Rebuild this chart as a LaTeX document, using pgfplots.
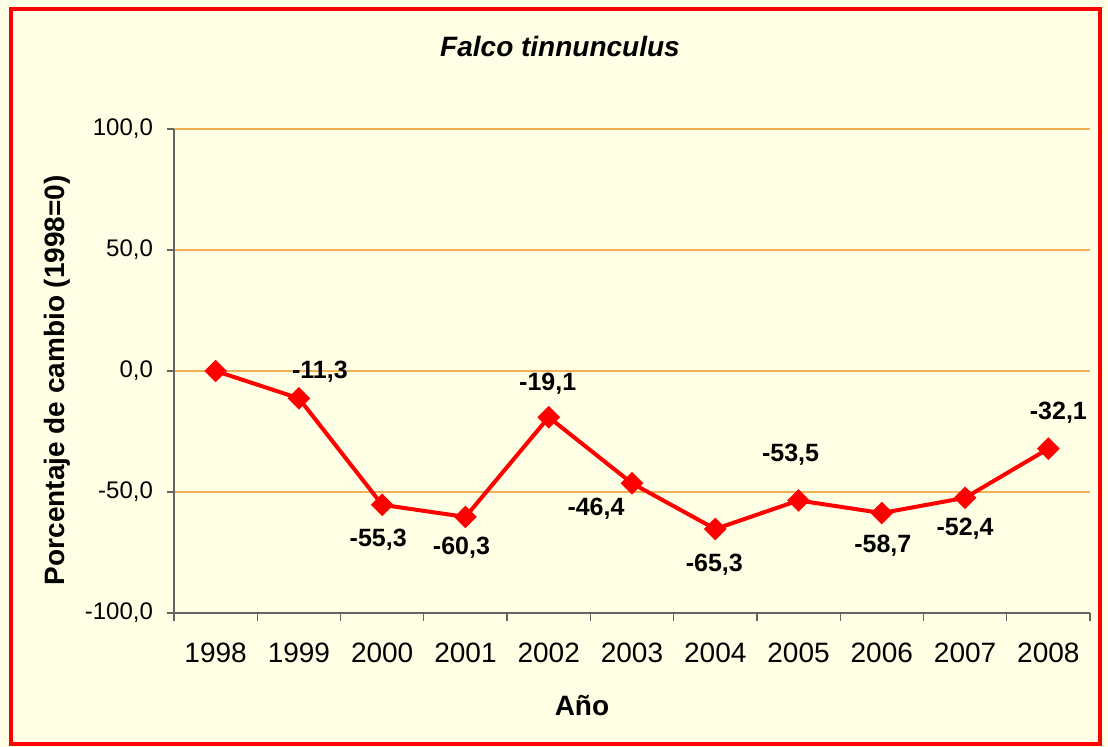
\documentclass[border=0pt]{standalone}
\usepackage{pgfplots}
\pgfplotsset{compat=1.18}
\usepackage{pgfplotstable}
\usepackage{fontspec}
\setmainfont{Liberation Sans}

\definecolor{bgyellow}{RGB}{255,255,229}
\definecolor{gridorange}{RGB}{242,176,80}
\definecolor{axisgray}{RGB}{100,100,100}

% x index, value, label offsets (pt)
\pgfplotstableread{
x  y      dx    dy
0  0.0    0     0
1  -11.3  10.5  13.5
2  -55.3  -2    -17.5
3  -60.3  -2    -15.5
4  -19.1  -0.5  17
5  -46.4  -18   -12.5
6  -65.3  -0.5  -18
7  -53.5  -4    23
8  -58.7  0.5   -16.5
9  -52.4  0     -15.5
10 -32.1  5     18
}\kestrel

\begin{document}
\begin{tikzpicture}
  \useasboundingbox (-87pt,-67pt) rectangle (467pt,306.5pt);
  \fill[bgyellow] (-87pt,-67pt) rectangle (467pt,306.5pt);
  \draw[red, line width=2.25pt] (-81.5pt,-65.5pt) rectangle (463pt,302pt);
  \begin{axis}[
      at={(0,0)}, anchor=south west,
      scale only axis,
      width=458pt, height=242pt,
      xmin=-0.5, xmax=10.5,
      ymin=-100, ymax=100,
      axis lines*=left,
      axis line style={axisgray, line width=0.6pt},
      xtick={0,...,10},
      xticklabels={1998,1999,2000,2001,2002,2003,2004,2005,2006,2007,2008},
      minor xtick={-0.5,0.5,...,10.5},
      ytick={-100,-50,0,50,100},
      tick align=outside,
      major tick length=3.5pt,
      minor tick length=4pt,
      x tick style={draw=none},
      minor x tick style={draw=axisgray, line width=0.6pt},
      y tick style={axisgray, line width=0.6pt},
      ymajorgrids,
      major grid style={gridorange, line width=0.6pt},
      xticklabel style={yshift=-8pt, font=\fontsize{14}{16}\selectfont, text=black},
      yticklabel style={xshift=-3.5pt, font=\fontsize{12}{14}\selectfont, text=black,
        /pgf/number format/.cd, fixed, fixed zerofill, precision=1,
        use comma, assume math mode=true},
      title={\bfseries\itshape Falco tinnunculus},
      title style={font=\fontsize{14}{16}\selectfont, at={(axis description cs:0.4214,1.145)}, anchor=center},
      xlabel={\bfseries Año},
      xlabel style={font=\fontsize{14}{16}\selectfont, at={(axis description cs:0.4454,-0.192)}, anchor=center},
      ylabel={\bfseries Porcentaje de cambio (1998=0)},
      ylabel style={font=\fontsize{14}{16}\selectfont, at={(axis description cs:-0.1277,0.481)}, anchor=center, rotate=0},
      clip=false,
    ]
    \addplot[red, line width=2pt, mark=square*, mark size=3pt,
      mark options={rotate=45, solid, fill=red}]
      table[x=x, y=y] {\kestrel};
    \addplot[draw=none, mark=none,
      visualization depends on={\thisrow{dx}\as\dx},
      visualization depends on={\thisrow{dy}\as\dy},
      nodes near coords={\pgfmathprintnumber[fixed, fixed zerofill, precision=1,
        use comma, assume math mode=true]{\pgfplotspointmeta}},
      every node near coord/.style={anchor=center, xshift=\dx pt, yshift=\dy pt,
        font=\bfseries\fontsize{12.5}{14}\selectfont, text=black, inner sep=0pt},
      restrict expr to domain={\coordindex}{1:10},
    ]
      table[x=x, y=y] {\kestrel};
  \end{axis}
\end{tikzpicture}
\end{document}
